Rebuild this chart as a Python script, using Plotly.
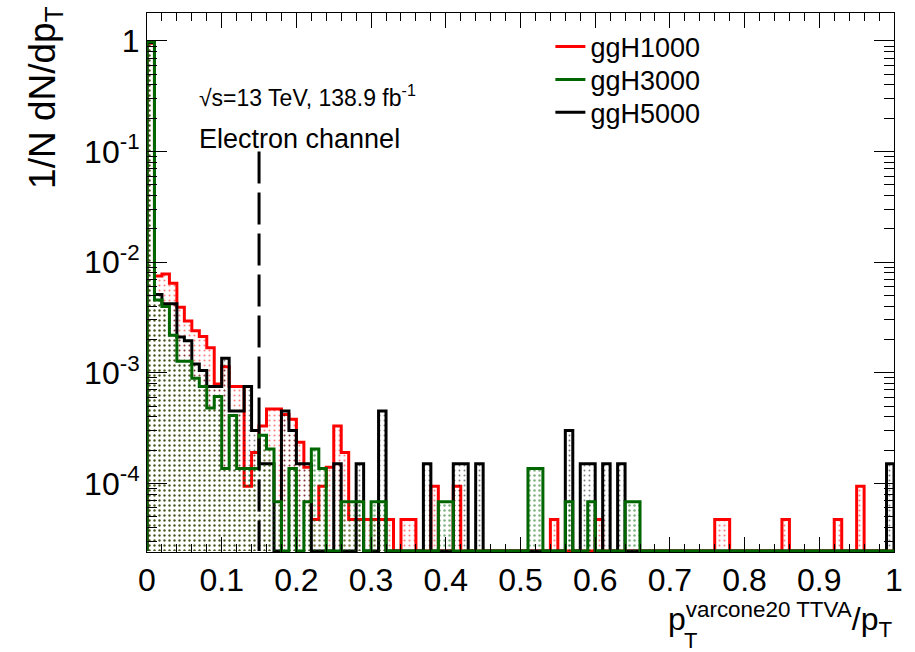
import plotly.graph_objects as go

# ---------------- data ----------------
bin_edges = [round(0.01 * i, 2) for i in range(101)]

ggH1000 = [0.953, 7.5e-3, 7.8e-3, 6.45e-3, 3.9e-3, 2.93e-3, 2.4e-3, 2.13e-3, 1.68e-3, 7.9e-4,
           1.13e-3, 7.5e-4, 7.5e-4, 9.4e-5, 1.9e-4, 3.3e-4, 4.7e-4, 4.7e-4, 4.2e-4, 3.8e-4,
           2.35e-4, 1.4e-4, 4.7e-5, 9.4e-5, 1.4e-4, 3.3e-4, 1.9e-4, 4.7e-5, 4.7e-5, 4.7e-5,
           4.7e-5, 4.7e-5, 4.7e-5, 0, 4.7e-5, 4.7e-5, 0, 0, 9.4e-5, 0,
           0, 9.4e-5, 0, 0, 0, 0, 0, 0, 0, 0,
           0, 0, 0, 0, 4.7e-5, 0, 0, 0, 0, 0,
           4.7e-5, 0, 0, 0, 0, 0, 0, 0, 0, 0,
           0, 0, 0, 0, 0, 0, 4.7e-5, 4.7e-5, 0, 0,
           0, 0, 0, 0, 0, 4.7e-5, 0, 0, 0, 0,
           0, 0, 4.7e-5, 0, 0, 9.4e-5, 0, 0, 0, 0]

ggH3000 = [0.985, 4.55e-3, 3.98e-3, 2.18e-3, 1.27e-3, 1.27e-3, 8.9e-4, 7.5e-4, 4.8e-4, 6.1e-4,
           1.36e-4, 4.1e-4, 1.36e-4, 1.36e-4, 1.36e-4, 2.72e-4, 2.04e-4, 6.8e-5, 0, 1.36e-4,
           0, 6.8e-5, 2.04e-4, 1.36e-4, 0, 0, 6.8e-5, 6.8e-5, 6.8e-5, 0,
           6.8e-5, 6.8e-5, 0, 0, 0, 0, 0, 0, 0, 6.8e-5,
           6.8e-5, 0, 0, 0, 0, 0, 0, 0, 0, 0,
           0, 1.36e-4, 1.36e-4, 0, 0, 0, 6.8e-5, 0, 0, 6.8e-5,
           0, 0, 0, 0, 6.8e-5, 6.8e-5, 0, 0, 0, 0,
           0, 0, 0, 0, 0, 0, 0, 0, 0, 0,
           0, 0, 0, 0, 0, 0, 0, 0, 0, 0,
           0, 0, 0, 0, 0, 0, 0, 0, 0, 0]

ggH5000 = [0.97, 5.1e-3, 4.2e-3, 4.2e-3, 2.1e-3, 1.95e-3, 1.2e-3, 1.05e-3, 7.5e-4, 7.5e-4,
           1.35e-3, 4.5e-4, 4.5e-4, 7.5e-4, 3.0e-4, 1.5e-4, 1.5e-4, 0, 4.5e-4, 3.0e-4,
           1.5e-4, 1.5e-4, 0, 0, 0, 1.5e-4, 0, 0, 1.5e-4, 0,
           0, 4.5e-4, 0, 0, 0, 0, 0, 1.5e-4, 0, 0,
           0, 1.5e-4, 1.5e-4, 0, 1.5e-4, 0, 0, 0, 0, 0,
           0, 0, 0, 0, 0, 0, 3.0e-4, 0, 1.5e-4, 1.5e-4,
           0, 1.5e-4, 0, 1.5e-4, 0, 0, 0, 0, 0, 0,
           0, 0, 0, 0, 0, 0, 0, 0, 0, 0,
           0, 0, 0, 0, 0, 0, 0, 0, 0, 0,
           0, 0, 0, 0, 0, 0, 0, 0, 0, 1.5e-4]

series_names = ["ggH1000", "ggH3000", "ggH5000"]
series_colors = {"ggH1000": "#ff0000", "ggH3000": "#006600", "ggH5000": "#000000"}

cut_x = 0.15
cut_top = 0.1

y_tickvals = [1e-4, 1e-3, 1e-2, 1e-1, 1]
y_ticktext = ["10<sup>-4</sup>", "10<sup>-3</sup>", "10<sup>-2</sup>", "10<sup>-1</sup>", "1"]
y_minor_vals = [k * 10.0 ** d for d in range(-5, 1) for k in range(2, 10)]

# ---------------- figure ----------------
YMIN_LOG, YMAX_LOG = -4.621, 0.253
floor_val = 10 ** (YMIN_LOG + 0.008)
FONT = "Liberation Sans"


def step_path(vals):
    xs = [bin_edges[0]]
    ys = [floor_val]
    for i, v in enumerate(vals):
        xs.append(bin_edges[i])
        ys.append(v if v > 0 else floor_val)
    xs.append(bin_edges[-1]); ys.append(vals[-1] if vals[-1] > 0 else floor_val)
    xs.append(bin_edges[-1]); ys.append(floor_val)
    return xs, ys


fig = go.Figure()
data = {"ggH1000": ggH1000, "ggH3000": ggH3000, "ggH5000": ggH5000}
fill_solidity = {"ggH1000": 0.14, "ggH5000": 0.12, "ggH3000": 0.2}
for name in ["ggH1000", "ggH5000", "ggH3000"]:
    xs, ys = step_path(data[name])
    c = series_colors[name]
    fig.add_trace(go.Scatter(
        x=xs, y=ys, mode="lines", line=dict(color=c, width=3, shape="hv"),
        fill="toself", fillcolor="rgba(0,0,0,0)",
        fillpattern=dict(shape=".", fgcolor=c, bgcolor="rgba(0,0,0,0)", size=5,
                         solidity=fill_solidity[name]),
        showlegend=False, hoverinfo="skip"))

# cut line
fig.add_trace(go.Scatter(x=[cut_x, cut_x], y=[cut_top, floor_val], mode="lines",
                         line=dict(color="black", width=3, dash="32px,9px"),
                         showlegend=False, hoverinfo="skip"))

# legend entries (one small legend per row for exact spacing)
legend_ids = ["legend", "legend2", "legend3"]
row_centers_px = [46, 79, 112]
for name, lid in zip(series_names, legend_ids):
    fig.add_trace(go.Scatter(x=[None], y=[None], mode="lines", name=name, legend=lid,
                             line=dict(color=series_colors[name], width=3)))

legend_common = dict(xanchor="left", yanchor="middle", bgcolor="rgba(0,0,0,0)",
                     font=dict(size=27, family=FONT), itemwidth=30)
legend_layout = {}
for lid, py in zip(legend_ids, row_centers_px):
    legend_layout[lid] = dict(x=(552 - 147) / 750, y=(552 - py) / 540, **legend_common)

fig.update_layout(
    width=915, height=652,
    margin=dict(l=147, r=18, t=12, b=100),
    paper_bgcolor="white", plot_bgcolor="white",
    font=dict(family=FONT, size=28, color="black"),
    showlegend=True,
    **legend_layout,
    xaxis=dict(range=[0, 1], dtick=0.1, tick0=0, ticks="inside", ticklen=15, tickwidth=1,
               tickcolor="black", showline=True, linecolor="black", linewidth=1, mirror="ticks",
               showgrid=False, zeroline=False,
               tickfont=dict(size=32, family=FONT),
               minor=dict(dtick=0.02, ticks="inside", ticklen=8, tickcolor="black", showgrid=False)),
    yaxis=dict(type="log", range=[YMIN_LOG, YMAX_LOG], tickvals=y_tickvals, ticktext=y_ticktext,
               ticks="inside", ticklen=20, tickwidth=1, tickcolor="black",
               showline=True, linecolor="black", linewidth=1, mirror="ticks",
               showgrid=False, zeroline=False, tickfont=dict(size=32, family=FONT),
               minor=dict(tickmode="array", tickvals=y_minor_vals, ticks="inside", ticklen=10,
                          tickcolor="black", showgrid=False)),
)

annotations = [
    dict(text="√s=13 TeV, 138.9 fb<sup>-1</sup>", x=(197 - 147) / 750, y=(552 - 95) / 540,
         xref="paper", yref="paper", xanchor="left", yanchor="middle", showarrow=False,
         font=dict(size=23, family=FONT)),
    dict(text="Electron channel", x=(197 - 147) / 750, y=(552 - 138) / 540,
         xref="paper", yref="paper", xanchor="left", yanchor="middle", showarrow=False,
         font=dict(size=27, family=FONT)),
    dict(text="1/N dN/dp<sub>T</sub>", x=(44 - 147) / 750, y=(552 - 3) / 540,
         xref="paper", yref="paper", xanchor="center", yanchor="top", textangle=-90,
         showarrow=False, font=dict(size=37, family=FONT)),
    dict(text="p<sup>varcone20 TTVA</sup>/p<sub>T</sub>", x=1.0, y=(552 - 620) / 540,
         xref="paper", yref="paper", xanchor="right", yanchor="middle", showarrow=False,
         font=dict(size=32, family=FONT)),
    dict(text="T", x=(684 - 147) / 750, y=(552 - 641) / 540,
         xref="paper", yref="paper", xanchor="left", yanchor="middle", showarrow=False,
         font=dict(size=22, family=FONT)),
]
fig.update_layout(annotations=annotations)

fig.write_html("out.html")
